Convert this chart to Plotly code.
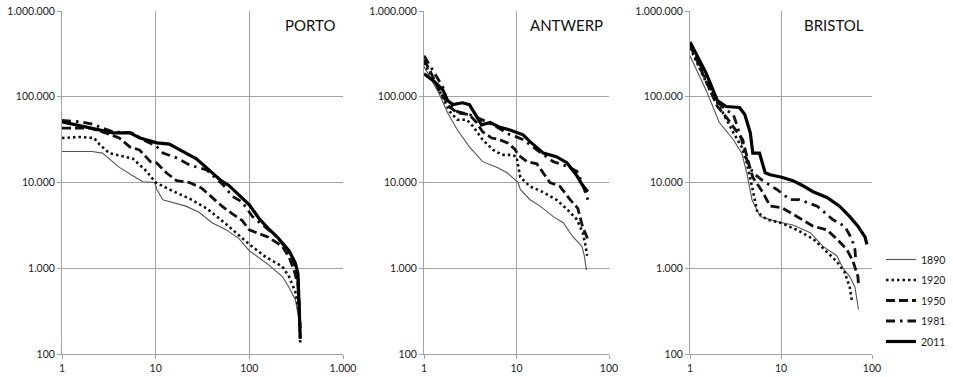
import plotly.graph_objects as go

# ---------------- data (rank, population) ----------------
YEARS = ["1890", "1920", "1950", "1981", "2011"]
CITIES = ["PORTO", "ANTWERP", "BRISTOL"]

Y_TICK_VALUES = [100, 1000, 10000, 100000, 1000000]
Y_TICK_LABELS = ["100", "1.000", "10.000", "100.000", "1.000.000"]
X_TICK_VALUES_PORTO = [1, 10, 100, 1000]
X_TICK_LABELS_PORTO = ["1", "10", "100", "1.000"]
X_TICK_VALUES_OTHER = [1, 10, 100]
X_TICK_LABELS_OTHER = ["1", "10", "100"]

# PORTO
PORTO_1890_RANK = [1, 2.1, 2.7, 3.5, 4.1, 5.7, 7.3, 9.8, 10.3, 11.9, 15, 21, 29, 40, 57, 78, 100, 160, 225, 265, 310, 340, 350]
PORTO_1890_POP = [23000, 23000, 22000, 17500, 15000, 12000, 10200, 10000, 8300, 6300, 5900, 5300, 4500, 3400, 2800, 2200, 1600, 1100, 800, 600, 430, 250, 180]
PORTO_1920_RANK = [1, 1.55, 2.2, 2.5, 3.2, 4.9, 5.7, 8, 10, 15, 23, 35, 56, 100, 150, 225, 265, 310, 340, 350]
PORTO_1920_POP = [33000, 34000, 33000, 28000, 22000, 20000, 19000, 13500, 10000, 8000, 6500, 5000, 3300, 1900, 1350, 1050, 800, 530, 300, 130]
PORTO_1950_RANK = [1, 2, 2.7, 4.1, 5.3, 6.7, 8.8, 10.2, 13, 16.7, 23, 31, 40, 51, 66, 84, 100, 160, 225, 265, 300, 330, 345]
PORTO_1950_POP = [43000, 43000, 39000, 33000, 26000, 24000, 17500, 17000, 13000, 10500, 10000, 8600, 6700, 5300, 4300, 3600, 2800, 2300, 1800, 1350, 950, 650, 250]
PORTO_1981_RANK = [1, 1.55, 2.1, 3.5, 5.5, 8, 10, 12, 16.5, 23, 35, 52, 66, 84, 108, 160, 200, 250, 300, 330, 340, 350]
PORTO_1981_POP = [53000, 51000, 48000, 39000, 38000, 30000, 27000, 22000, 19500, 16000, 14000, 9500, 6900, 5900, 4000, 2800, 2300, 1650, 1150, 800, 400, 200]
PORTO_2011_RANK = [1, 2, 3.5, 5.3, 6.8, 10.3, 14, 21, 27, 50, 60, 100, 127, 160, 200, 265, 310, 330, 340, 350]
PORTO_2011_POP = [51000, 43000, 38000, 38000, 33000, 29000, 28000, 22000, 19000, 10500, 9300, 5500, 3800, 2900, 2300, 1600, 1150, 870, 400, 150]

# ANTWERP
ANTWERP_1890_RANK = [1, 1.45, 1.8, 2.3, 3.1, 4.3, 6.2, 7.9, 10.4, 11, 14, 18, 25, 32, 41, 51, 54, 57]
ANTWERP_1890_POP = [225000, 110000, 65000, 41000, 26000, 17500, 15000, 13000, 10000, 8300, 6300, 5300, 4000, 3400, 2300, 1800, 1400, 950]
ANTWERP_1920_RANK = [1, 1.45, 1.9, 2.3, 2.9, 3.4, 4.3, 5.6, 7, 8.9, 10, 10.5, 11, 14, 19.5, 27, 35, 45, 52, 56, 58]
ANTWERP_1920_POP = [250000, 120000, 67000, 54000, 54000, 45000, 31500, 24000, 21000, 21000, 20000, 15000, 11500, 9000, 7700, 6300, 4900, 3700, 2600, 1800, 1400]
ANTWERP_1950_RANK = [1, 1.15, 1.45, 1.9, 2.3, 3.1, 3.7, 4.3, 5.4, 6.6, 8, 9.6, 10.4, 13, 16.6, 19.5, 23, 29.5, 38, 46, 52, 59]
ANTWERP_1950_POP = [270000, 205000, 120000, 76000, 65000, 62000, 50000, 39000, 33000, 31500, 29000, 24500, 21000, 17500, 16500, 13000, 10000, 9000, 6300, 5000, 3000, 2200]
ANTWERP_1981_RANK = [1, 1.3, 1.6, 1.8, 2.3, 3.1, 4.6, 6.2, 8.5, 10, 11.8, 16.6, 25, 35, 45, 51, 59]
ANTWERP_1981_POP = [300000, 190000, 130000, 85000, 67000, 62000, 52000, 44000, 36000, 34000, 31500, 24000, 17500, 15500, 13500, 10000, 6300]
ANTWERP_2011_RANK = [1, 1.3, 1.6, 1.8, 2.06, 2.6, 3.1, 3.7, 4.2, 5.2, 6.6, 8.5, 10.4, 11.8, 14, 19.5, 27, 35, 45, 51, 59]
ANTWERP_2011_POP = [185000, 150000, 120000, 90000, 81000, 85000, 81000, 58000, 47000, 50000, 44000, 41000, 38000, 36000, 30000, 22000, 20000, 17000, 12000, 9500, 7800]

# BRISTOL
BRISTOL_1890_RANK = [1, 1.5, 2.1, 3, 3.7, 4.2, 4.8, 5.9, 9, 13.5, 21, 29, 41, 48, 57, 65, 71]
BRISTOL_1890_POP = [300000, 120000, 50000, 31500, 22000, 13000, 6300, 4000, 3500, 3200, 2600, 1800, 1400, 1000, 800, 600, 330]
BRISTOL_1920_RANK = [1, 1.65, 2.3, 3, 3.7, 4.2, 4.8, 5.5, 7, 9.8, 15, 22.5, 32, 41, 50, 57, 60]
BRISTOL_1920_POP = [370000, 120000, 65000, 38000, 26000, 17000, 9000, 4500, 3700, 3400, 2800, 2200, 1550, 1200, 900, 600, 420]
BRISTOL_1950_RANK = [1, 2, 2.5, 3.3, 3.8, 4.3, 4.9, 6.3, 7.6, 10.2, 15, 22.5, 32, 41, 53, 62, 70, 71]
BRISTOL_1950_POP = [400000, 77000, 58000, 38000, 31500, 18500, 11500, 7700, 5300, 5100, 4000, 3100, 2800, 2200, 1650, 1200, 800, 650]
BRISTOL_1981_RANK = [1, 2, 2.5, 3, 3.7, 4.2, 4.9, 6.3, 9, 12.6, 16, 25, 37, 50, 60, 65, 66]
BRISTOL_1981_POP = [420000, 87000, 70000, 62000, 31500, 18500, 13000, 10500, 8300, 6300, 6300, 5300, 3700, 3100, 2200, 1650, 1300]
BRISTOL_2011_RANK = [1, 1.5, 2, 2.5, 3.5, 4, 4.6, 4.9, 5.8, 6.7, 7.6, 10.2, 13.5, 17, 22.5, 32, 44, 57, 70, 84, 88]
BRISTOL_2011_POP = [435000, 190000, 90000, 77000, 75000, 62000, 38000, 22000, 22000, 13000, 12300, 11500, 10500, 9300, 7800, 6700, 5300, 4000, 3100, 2300, 1900]

SERIES = {
    "PORTO": [(PORTO_1890_RANK, PORTO_1890_POP), (PORTO_1920_RANK, PORTO_1920_POP),
              (PORTO_1950_RANK, PORTO_1950_POP), (PORTO_1981_RANK, PORTO_1981_POP),
              (PORTO_2011_RANK, PORTO_2011_POP)],
    "ANTWERP": [(ANTWERP_1890_RANK, ANTWERP_1890_POP), (ANTWERP_1920_RANK, ANTWERP_1920_POP),
                (ANTWERP_1950_RANK, ANTWERP_1950_POP), (ANTWERP_1981_RANK, ANTWERP_1981_POP),
                (ANTWERP_2011_RANK, ANTWERP_2011_POP)],
    "BRISTOL": [(BRISTOL_1890_RANK, BRISTOL_1890_POP), (BRISTOL_1920_RANK, BRISTOL_1920_POP),
                (BRISTOL_1950_RANK, BRISTOL_1950_POP), (BRISTOL_1981_RANK, BRISTOL_1981_POP),
                (BRISTOL_2011_RANK, BRISTOL_2011_POP)],
}

# ---------------- styling ----------------
# Full-window figure; the page's default body margin is removed after plotting.
W, H = 953, 377
FONT = "Lato, 'Open Sans', sans-serif"
GRID = "#a3a3a3"
STYLES = [
    dict(color="#555555", width=1.1, dash="solid"),
    dict(color="#111111", width=2.6, dash="2.5px,3px"),
    dict(color="#111111", width=2.8, dash="9px,4px"),
    dict(color="#111111", width=2.8, dash="9px,5px,2.5px,5px"),
    dict(color="#000000", width=3.2, dash="solid"),
]
PANELS_PX = [(62, 343), (424, 609), (690, 872)]
Y_TOP, Y_BOT = 11, 354
TITLE_RIGHT_PX = [337, 605, 866]
TITLE_Y_PX = 25

fig = go.Figure()
for i, city in enumerate(CITIES):
    suffix = "" if i == 0 else str(i + 1)
    for j, (ranks, pops) in enumerate(SERIES[city]):
        fig.add_trace(go.Scatter(
            x=ranks, y=pops, mode="lines", name=YEARS[j],
            line=dict(color=STYLES[j]["color"], width=STYLES[j]["width"], dash=STYLES[j]["dash"]),
            xaxis="x" + suffix, yaxis="y" + suffix,
            showlegend=(i == 0), legendgroup=YEARS[j],
            hoverinfo="skip",
        ))

axis_common = dict(
    type="log", showgrid=True, gridcolor=GRID, gridwidth=1,
    showline=True, linecolor=GRID, linewidth=1, mirror=False,
    ticks="outside", ticklen=4, tickcolor=GRID, zeroline=False,
    tickfont=dict(family=FONT, size=10.5, color="#222222"),
    ticklabeloverflow="allow",
    automargin=False, fixedrange=True,
)
layout = dict(
    width=W, height=H, margin=dict(l=0, r=0, t=0, b=0),
    paper_bgcolor="white", plot_bgcolor="white",
    font=dict(family=FONT, color="#222222"),
    showlegend=True,
    legend=dict(x=881 / W, xanchor="left", y=(H - 245) / H, yanchor="top",
                font=dict(family=FONT, size=10.5, color="#222222"),
                bgcolor="rgba(0,0,0,0)", tracegroupgap=1.5, itemwidth=30),
)
for i, city in enumerate(CITIES):
    suffix = "" if i == 0 else str(i + 1)
    x0, x1 = PANELS_PX[i]
    xr = [0, 3] if i == 0 else [0, 2]
    tv = X_TICK_VALUES_PORTO if i == 0 else X_TICK_VALUES_OTHER
    tt = X_TICK_LABELS_PORTO if i == 0 else X_TICK_LABELS_OTHER
    layout["xaxis" + suffix] = dict(axis_common, domain=[x0 / W, x1 / W], range=xr,
                                    tickvals=tv, ticktext=tt, anchor="y" + suffix)
    layout["yaxis" + suffix] = dict(axis_common, domain=[(H - Y_BOT) / H, (H - Y_TOP) / H],
                                    range=[2, 6], tickvals=Y_TICK_VALUES, ticktext=Y_TICK_LABELS,
                                    anchor="x" + suffix)
fig.update_layout(**layout)

for i, city in enumerate(CITIES):
    fig.add_annotation(text=city, xref="paper", yref="paper",
                       x=TITLE_RIGHT_PX[i] / W, y=(H - TITLE_Y_PX) / H, xanchor="right", yanchor="middle",
                       showarrow=False, font=dict(family=FONT, size=15, color="#111111"))

fig.write_html(
    "out.html",
    config={"displayModeBar": False, "staticPlot": True},
    post_script="document.body.style.margin='0px';document.body.style.overflow='hidden';",
)
